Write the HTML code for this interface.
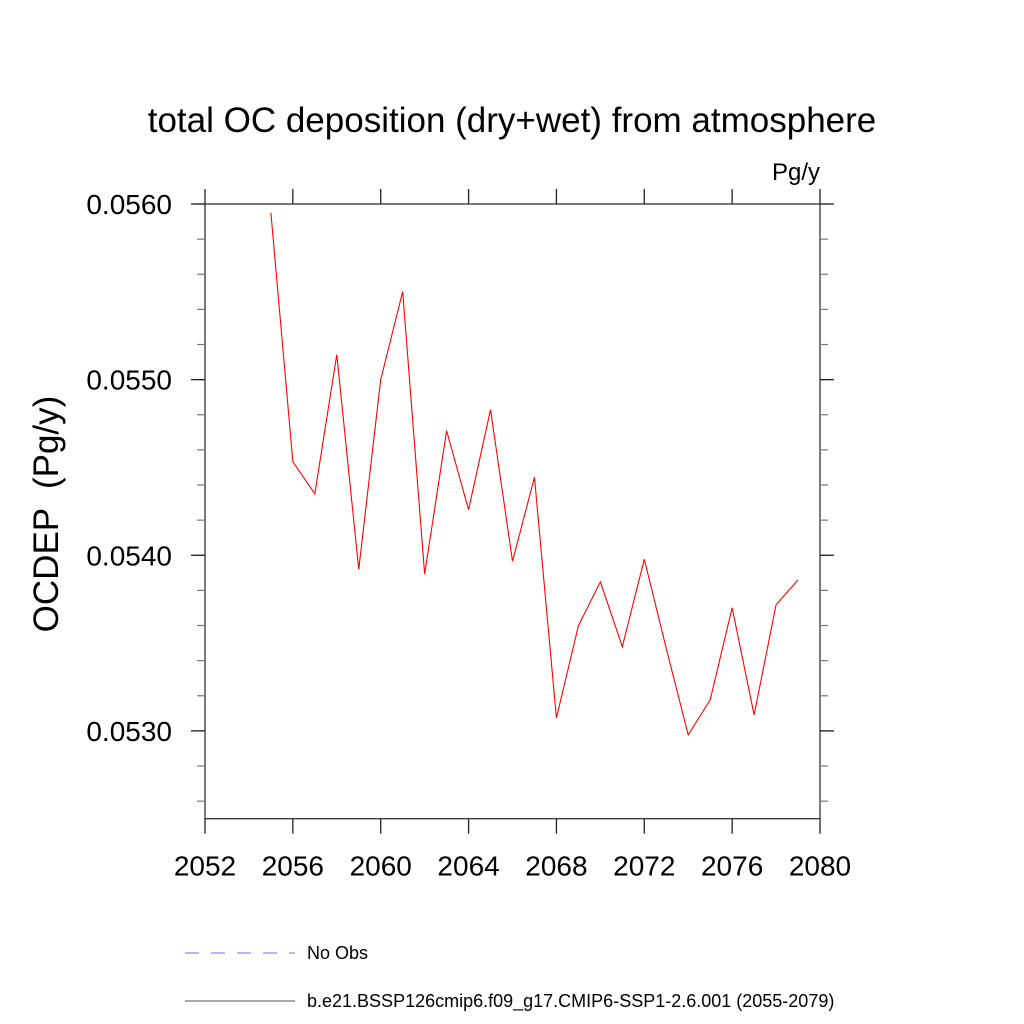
<!DOCTYPE html>
<html><head><meta charset="utf-8"><style>body{margin:0;background:#fff}svg{display:block;font-family:"Liberation Sans",sans-serif}</style></head>
<body>
<svg width="1024" height="1024" xmlns="http://www.w3.org/2000/svg">
<text x="512" y="132" text-anchor="middle" font-size="35">total OC deposition (dry+wet) from atmosphere</text>
<text x="820" y="180" text-anchor="end" font-size="24">Pg/y</text>
<text transform="translate(58,514) rotate(-90)" text-anchor="middle" font-size="35" xml:space="preserve">OCDEP  (Pg/y)</text>
<g id="axes"></g>
<g id="series"></g>
<g>
<line x1="185" y1="953" x2="295" y2="953" stroke="#6a6aff" stroke-dasharray="14,12" stroke-width="1"/>
<text x="307" y="959" font-size="18">No Obs</text>
<line x1="185" y1="1001" x2="295" y2="1001" stroke="#555" stroke-width="1"/>
<text x="307" y="1007" font-size="18">b.e21.BSSP126cmip6.f09_g17.CMIP6-SSP1-2.6.001 (2055-2079)</text>
</g>
</svg>
<script>
const years=[2055,2056,2057,2058,2059,2060,2061,2062,2063,2064,2065,2066,2067,2068,2069,2070,2071,2072,2073,2074,2075,2076,2077,2078,2079];
const values=[0.05595,0.054533,0.05435,0.055142,0.05392,0.0550,0.055501,0.053892,0.054709,0.054259,0.054829,0.053966,0.054444,0.053074,0.053598,0.053849,0.053479,0.053977,0.05347,0.052977,0.053177,0.053701,0.053091,0.053718,0.05386];
const xTicks=[2052,2056,2060,2064,2068,2072,2076,2080];
const yTicks=["0.0530","0.0540","0.0550","0.0560"];
const NS="http://www.w3.org/2000/svg";
const L=205,R=820,T=204,B=818.7;
const xs=v=>L+(v-2052)/(2080-2052)*(R-L);
const ys=v=>B-(v-0.0525)/(0.0560-0.0525)*(B-T);
const ax=document.getElementById('axes');
function ln(g,x1,y1,x2,y2,c,w){const e=document.createElementNS(NS,'line');e.setAttribute('x1',x1);e.setAttribute('y1',y1);e.setAttribute('x2',x2);e.setAttribute('y2',y2);e.setAttribute('stroke',c);e.setAttribute('stroke-width',w);g.appendChild(e);return e;}
function tx(g,x,y,s,a){const e=document.createElementNS(NS,'text');e.setAttribute('x',x);e.setAttribute('y',y);e.setAttribute('text-anchor',a);e.setAttribute('font-size','28');e.textContent=s;g.appendChild(e);return e;}
const fr=document.createElementNS(NS,'rect');


fr.setAttribute('x',L);fr.setAttribute('y',T);fr.setAttribute('width',R-L);fr.setAttribute('height',B-T);fr.setAttribute('fill','none');fr.setAttribute('stroke','#333');fr.setAttribute('stroke-width','1.3');ax.appendChild(fr);
for(let v=0.0526;v<0.05601;v+=0.0002){const y=ys(v);ln(ax,L-8,y,L,y,'#777',1.2);ln(ax,R,y,R+8,y,'#777',1.2);}
yTicks.forEach(s=>{const y=ys(parseFloat(s));ln(ax,L-14,y,L,y,'#222',1.3);ln(ax,R,y,R+14,y,'#222',1.3);
const t=tx(ax,L-33,y+10,s,'end');

});
xTicks.forEach(v=>{const x=xs(v);ln(ax,x,T-15,x,T,'#222',1.3);ln(ax,x,B,x,B+15,'#222',1.3);
const t=tx(ax,x,B+57,String(v),'middle');

});
const p=document.createElementNS(NS,'polyline');


p.setAttribute('points',years.map((y,i)=>xs(y)+','+ys(values[i])).join(' '));
p.setAttribute('fill','none');p.setAttribute('stroke','#ff0000');p.setAttribute('stroke-width','1.1');
document.getElementById('series').appendChild(p);
</script>
</body></html>
